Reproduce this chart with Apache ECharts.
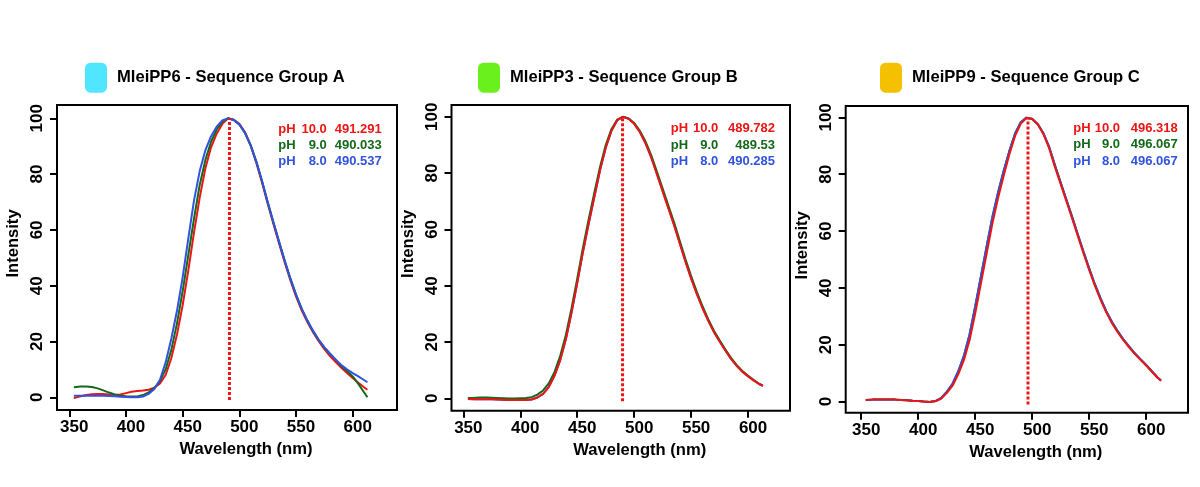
<!DOCTYPE html>
<html>
<head>
<meta charset="utf-8">
<script src="https://cdn.jsdelivr.net/npm/echarts@6/dist/echarts.min.js"></script>
<style>
html,body{margin:0;padding:0;background:#fff;}
#chart{width:1200px;height:487px;}
</style>
</head>
<body>
<div id="chart"></div>
<script>
// ---------------- DATA ----------------
const wavelength = [354,360,365,370,375,380,385,390,395,400,405,410,415,420,425,430,435,440,445,450,455,460,465,470,475,480,485,490,495,500,505,510,515,520,525,530,535,540,545,550,555,560,565,570,575,580,585,590,595,600,605,610,613];

const groupNames = ['MleiPP6 - Sequence Group A','MleiPP3 - Sequence Group B','MleiPP9 - Sequence Group C'];
const phLabels = ['10.0','9.0','8.0'];
const xTicks = [350,400,450,500,550,600];
const yTicks = [0,20,40,60,80,100];

// Group A
const A_pH10 = [-0.3,0.4,0.8,1.1,1.2,1.2,1.0,0.9,1.0,1.5,2.0,2.3,2.4,2.7,3.4,5.0,8.0,14,22.5,33,45.5,59,71.5,82,89.5,94.5,98,99.9,99.6,98,95,90.3,84,77,69.5,62.2,55.2,48.4,42,36.2,31.2,27,23.3,20.1,17.3,14.8,12.6,10.6,8.7,6.9,5.2,3.6,2.7];
const A_pH9  = [3.6,3.9,3.9,3.7,3.2,2.5,1.7,1.0,0.6,0.4,0.3,0.3,0.8,1.8,3.3,5.8,10,17,26.5,38,51,64,76,85,91.5,96,98.8,100,99.4,97.8,94.8,90.3,84.5,77.5,70,62.8,55.8,49,42.6,36.8,31.8,27.5,23.8,20.6,17.9,15.6,13.5,11.2,9.4,7.5,4.8,1.8,0];
const A_pH8  = [0.6,0.6,0.6,0.6,0.6,0.6,0.5,0.4,0.2,0.1,0.0,0.0,0.3,1.2,3.0,6.3,12.5,21,31,43,57,70.5,81,88.5,93.5,97,99.2,100,99.4,97.8,94.8,90.3,84.5,77.5,70,62.8,55.8,49,42.6,36.8,31.8,27.5,23.8,20.6,17.9,15.6,13.5,11.6,10,8.7,7.5,6.2,5.4];
const A_peaks = ['491.291','490.033','490.537'];

// Group B
const B_pH10 = [-0.2,-0.3,-0.3,-0.3,-0.3,-0.4,-0.5,-0.6,-0.6,-0.6,-0.6,-0.4,0.3,1.6,4,8,13.5,21,30.5,41,52,62,71.5,81,89,95,98.8,100,99.3,97.5,94.5,90.5,85.5,79.5,73.5,67.5,61.5,55,48.5,42.5,37,32,27.5,23.5,20.2,17,14,11.5,9.4,7.8,6.3,5.0,4.4];
const B_pH9  = [0.1,0.2,0.3,0.3,0.2,0.1,0.0,-0.1,-0.1,0.0,0.1,0.4,1.3,2.8,5.3,9.3,15,22.5,32,42.5,53.5,63.5,73,82.2,90,95.6,99,100,99.4,97.8,95,91.2,86.3,80.5,74.5,68.5,62.5,56,49.5,43.4,37.8,32.7,28.1,24,20.6,17.4,14.4,11.8,9.7,8.0,6.5,5.1,4.5];
const B_pH8  = [-0.2,-0.3,-0.3,-0.3,-0.3,-0.4,-0.5,-0.6,-0.6,-0.6,-0.6,-0.4,0.3,1.6,4,8,13.5,21,30.5,41,52,62,71.5,81,89,95,98.7,100,99.4,97.6,94.7,90.7,85.7,79.7,73.7,67.7,61.7,55.2,48.7,42.7,37.2,32.2,27.7,23.7,20.3,17.1,14.1,11.6,9.5,7.9,6.4,5.0,4.4];
const B_peaks = ['489.782','489.53','490.285'];

// Group C
const C_pH10 = [0.6,0.7,0.7,0.7,0.7,0.7,0.6,0.5,0.3,0.2,0.0,-0.1,0.1,1.0,3.0,5.5,9.5,14.5,21.5,31,41.5,52,62.5,71.5,79.5,87,93.5,97.8,99.8,99.5,97.5,94,89,82.5,76.5,70.5,64.5,58.3,52.2,46.3,40.8,35.8,31.4,27.6,24.4,21.6,19.1,16.8,14.7,12.7,10.5,8.4,7.3];
const C_pH9  = [0.6,0.7,0.7,0.7,0.7,0.7,0.6,0.5,0.3,0.2,0.0,-0.1,0.2,1.2,3.4,6.2,10.5,16,23.5,33.5,44,54.5,64.8,73.5,81.2,88.2,94.3,98.3,99.9,99.4,97.6,94.3,89.5,83.1,77.1,71.1,65.1,58.9,52.8,46.9,41.3,36.3,31.8,28,24.8,21.9,19.4,17,14.9,12.9,10.7,8.5,7.4];
const C_pH8  = [0.6,0.7,0.7,0.7,0.7,0.7,0.6,0.5,0.3,0.2,0.0,-0.1,0.2,1.2,3.4,6.2,10.5,16,23.5,33.5,44,54.5,64.8,73.5,81.2,88.2,94.3,98.3,99.9,99.4,97.6,94.3,89.5,83.1,77.1,71.1,65.1,58.9,52.8,46.9,41.3,36.3,31.8,28,24.8,21.9,19.4,17,14.9,12.9,10.7,8.5,7.4];
const C_peaks = ['496.318','496.067','496.067'];

// ---------------- STYLE / LAYOUT ----------------
const FONT = '"Liberation Sans", Arial, Helvetica, sans-serif';
const RED = '#ee1414', GREEN = '#14681a', BLUE = '#3152df';
const phColors = [RED, GREEN, BLUE];
const groupColors = ['#50e6ff', '#6af01c', '#f4c000'];

const panels = [
  { grid:{left:57, top:105, width:340, height:305}, x:[339.15,639.1], y:[-4.55,104.77],
    data:[A_pH10,A_pH9,A_pH8], order:[0,1,2], peaks:A_peaks, legendLeft:85,
    ann:{ph:-118.7, c2:-70.3, c3:-15.3, rows:[24,40,56]} },
  { grid:{left:451.5, top:105, width:338.5, height:305.7}, x:[339.6,636.8], y:[-4.4,104.2],
    data:[B_pH10,B_pH9,B_pH8], order:[2,1,0], peaks:B_peaks, legendLeft:478,
    ann:{ph:-119.3, c2:-71.7, c3:-15, rows:[23.5,40,56.5]} },
  { grid:{left:845.7, top:106, width:342.3, height:306.7}, x:[336.4,636.7], y:[-3.9,104],
    data:[C_pH10,C_pH9,C_pH8], order:[1,2,0], peaks:C_peaks, legendLeft:880,
    ann:{ph:-114.7, c2:-68, c3:-10.3, rows:[22.5,38.5,55]} }
];

const toPairs = arr => wavelength.map((w,i)=>[w, arr[i]]);

const option = {
  animation:false,
  backgroundColor:'#ffffff',
  grid:[], xAxis:[], yAxis:[], series:[], legend:[], graphic:[]
};

panels.forEach((p, gi) => {
  option.grid.push(Object.assign({show:true, borderColor:'#000', borderWidth:2, backgroundColor:'transparent', containLabel:false}, p.grid));
  option.xAxis.push({
    type:'value', gridIndex:gi, min:p.x[0], max:p.x[1],
    name:'Wavelength (nm)', nameLocation:'middle', nameGap:27,
    nameTextStyle:{fontFamily:FONT, fontWeight:'bold', fontSize:16.6, color:'#000', padding:[0,0,0,38]},
    axisLine:{show:false, onZero:false},
    axisTick:{show:true, length:7, inside:false, customValues:xTicks, lineStyle:{color:'#000', width:2}},
    axisLabel:{show:true, customValues:xTicks, margin:9, fontFamily:FONT, fontWeight:'bold', fontSize:17, color:'#000', padding:[0,0,0,10]},
    splitLine:{show:false}
  });
  option.yAxis.push({
    type:'value', gridIndex:gi, min:p.y[0], max:p.y[1],
    name:'Intensity', nameLocation:'middle', nameGap:35,
    nameTextStyle:{fontFamily:FONT, fontWeight:'bold', fontSize:16.6, color:'#000', padding:[0,0,0,28]},
    axisLine:{show:false, onZero:false},
    axisTick:{show:true, length:7, inside:false, customValues:yTicks, lineStyle:{color:'#000', width:2}},
    axisLabel:{show:true, customValues:yTicks, rotate:90, margin:11, fontFamily:FONT, fontWeight:'bold', fontSize:17, color:'#000'},
    splitLine:{show:false}
  });
  // legend dummy series (group name with coloured key)
  option.series.push({
    name:groupNames[gi], type:'line', xAxisIndex:gi, yAxisIndex:gi, data:[],
    itemStyle:{color:groupColors[gi]}, lineStyle:{color:groupColors[gi]}
  });
  option.legend.push({
    data:[{name:groupNames[gi], icon:'roundRect', itemStyle:{color:groupColors[gi]}}],
    left:p.legendLeft, top:62.7, padding:0, itemWidth:22, itemHeight:30, selectedMode:false,
    textStyle:{fontFamily:FONT, fontWeight:'bold', fontSize:16.6, color:'#000', padding:[0,0,0,5]}
  });
  // curves
  p.order.forEach(k => {
    option.series.push({
      name:groupNames[gi]+' pH '+phLabels[k], type:'line', xAxisIndex:gi, yAxisIndex:gi,
      data:toPairs(p.data[k]), showSymbol:false, symbol:'none', smooth:false,
      lineStyle:{color:phColors[k], width:2}, itemStyle:{color:phColors[k]}, z:2
    });
  });
  // dotted peak marker for pH 10.0
  const pk = parseFloat(p.peaks[0]);
  option.series.push({
    name:groupNames[gi]+' peak', type:'line', xAxisIndex:gi, yAxisIndex:gi,
    data:[[pk,-1],[pk,100]], showSymbol:false, symbol:'none',
    lineStyle:{color:RED, width:3, type:[3,2]}, z:3
  });
  // annotation text
  const R = p.grid.left + p.grid.width, T = p.grid.top;
  for (let k=0;k<3;k++){
    const y = T + p.ann.rows[k];
    const base = {fill:phColors[k], font:'bold 13px '+FONT, verticalAlign:'middle'};
    option.graphic.push({type:'text', x:R+p.ann.ph, y:y, style:Object.assign({text:'pH', align:'left'}, base)});
    option.graphic.push({type:'text', x:R+p.ann.c2, y:y, style:Object.assign({text:phLabels[k], align:'right'}, base)});
    option.graphic.push({type:'text', x:R+p.ann.c3, y:y, style:Object.assign({text:p.peaks[k], align:'right'}, base)});
  }
});

const chart = echarts.init(document.getElementById('chart'), null, {renderer:'canvas'});
chart.setOption(option);
</script>
</body>
</html>
